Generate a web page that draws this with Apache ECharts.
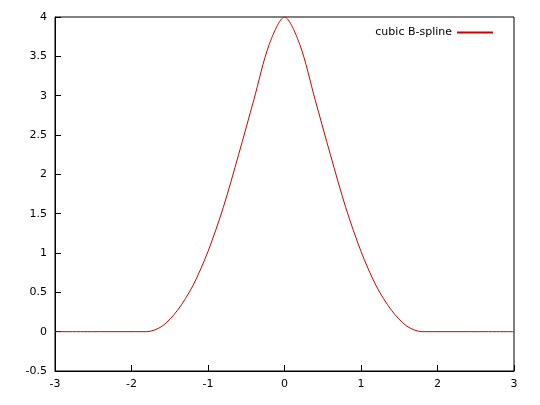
<!DOCTYPE html>
<html>
<head>
<meta charset="utf-8">
<script src="https://cdn.jsdelivr.net/npm/echarts@6/dist/echarts.min.js"></script>
<style>html,body{margin:0;background:#fff}#main{width:540px;height:405px}</style>
</head>
<body>
<div id="main"></div>
<script>
var xs = [-3, -2.4, -1.8, -1.6, -1.4, -1.2, -1.0, -0.8, -0.6, -0.4, -0.2, 0, 0.2, 0.4, 0.6, 0.8, 1.0, 1.2, 1.4, 1.6, 1.8, 2.4, 3];
var ys = [0, 0, 0, 0.07, 0.27, 0.58, 1.02, 1.58, 2.25, 2.95, 3.65, 4, 3.65, 2.95, 2.25, 1.58, 1.02, 0.58, 0.27, 0.07, 0, 0, 0];
var seriesName = 'cubic B-spline';

var myChart = echarts.init(document.getElementById('main'));
var pts = [];
for (var i = 0; i < xs.length; i++) pts.push([xs[i], ys[i]]);

var axisCommon = {
  axisLine: { show: true, onZero: false, lineStyle: { color: '#000' } },
  axisTick: { inside: true, length: 6, lineStyle: { color: '#000' } },
  axisLabel: { color: '#000', fontFamily: 'DejaVu Sans', fontSize: 11 },
  splitLine: { show: false }
};

var option = {
  animation: false,
  grid: { left: 55, right: 26, top: 17, bottom: 34, show: true, borderColor: '#000', borderWidth: 1 },
  legend: {
    data: [seriesName], right: 42, top: 22, itemWidth: 36, itemHeight: 2, itemGap: 10,
    icon: 'rect', align: 'right',
    textStyle: { color: '#000', fontFamily: 'DejaVu Sans', fontSize: 11 }
  },
  xAxis: Object.assign({ type: 'value', min: -3, max: 3, interval: 1 }, axisCommon),
  yAxis: Object.assign({ type: 'value', min: -0.5, max: 4, interval: 0.5 }, axisCommon),
  series: [{
    name: seriesName, type: 'line', data: pts, smooth: 0.3, showSymbol: false,
    lineStyle: { color: '#d00000', width: 1 }, itemStyle: { color: '#d00000' }
  }]
};
myChart.setOption(option);
</script>
</body>
</html>
